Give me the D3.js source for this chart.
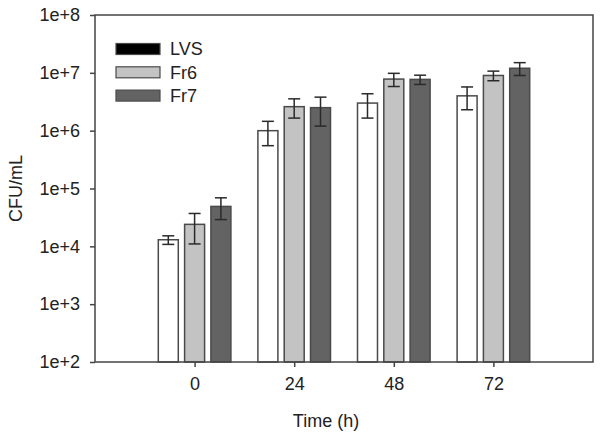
<!DOCTYPE html>
<html>
<head>
<meta charset="utf-8">
<script src="https://cdn.jsdelivr.net/npm/d3@7"></script>
<style>
  html, body { margin: 0; padding: 0; background: #fff; }
  text { font-family: "Liberation Sans", Arial, sans-serif; }
</style>
</head>
<body>
<svg id="chart" width="601" height="440"></svg>
<script>
// ---- data ----
const categories = ["0", "24", "48", "72"];
const seriesNames = ["LVS", "Fr6", "Fr7"];
const lvsValues = [1.3e4, 1.0e6, 3.0e6, 4.0e6];
const lvsErrors = [0.22e4, 0.45e6, 1.35e6, 1.7e6];
const fr6Values = [2.4e4, 2.6e6, 7.8e6, 9.0e6];
const fr6Errors = [1.3e4, 0.95e6, 2.0e6, 1.7e6];
const fr7Values = [4.9e4, 2.5e6, 7.7e6, 1.2e7];
const fr7Errors = [2.0e4, 1.3e6, 1.4e6, 3.0e6];
const yTickValues = [1e2, 1e3, 1e4, 1e5, 1e6, 1e7, 1e8];
const yTickLabels = ["1e+2", "1e+3", "1e+4", "1e+5", "1e+6", "1e+7", "1e+8"];

const barFills = { LVS: "#ffffff", Fr6: "#c3c3c3", Fr7: "#636363" };
const legendFills = { LVS: "#000000", Fr6: "#c3c3c3", Fr7: "#636363" };

const seriesData = [
  { name: "LVS", values: lvsValues, errors: lvsErrors },
  { name: "Fr6", values: fr6Values, errors: fr6Errors },
  { name: "Fr7", values: fr7Values, errors: fr7Errors }
];

const svg = d3.select("#chart");
const mLeft = 95, mRight = 593, mTop = 15, mBottom = 362;
const axisColor = "#444";

const x = d3.scalePoint().domain(categories).range([mLeft, mRight]).padding(1);
const xs = d3.scaleBand().domain(seriesNames).range([-36.3, 36.3]).paddingInner(0.24);
const y = d3.scaleLog().domain([1e2, 1e8]).range([mBottom, mTop]);

// bars
const rows = [];
seriesData.forEach(s => {
  categories.forEach((c, i) => rows.push({ s: s.name, c, v: s.values[i], e: s.errors[i] }));
});

const g = svg.append("g");
g.selectAll("rect.bar").data(rows).enter().append("rect")
  .attr("class", "bar")
  .attr("x", d => x(d.c) + xs(d.s))
  .attr("width", xs.bandwidth())
  .attr("y", d => y(d.v))
  .attr("height", d => y(1e2) - y(d.v))
  .attr("fill", d => barFills[d.s])
  .attr("stroke", "#4a4a4a")
  .attr("stroke-width", 1.5);

// error bars
const eb = g.selectAll("g.err").data(rows).enter().append("g").attr("class", "err")
  .attr("stroke", "#2a2a2a").attr("stroke-width", 1.5);
const cx = d => x(d.c) + xs(d.s) + xs.bandwidth() / 2;
eb.append("line")
  .attr("x1", cx).attr("x2", cx)
  .attr("y1", d => y(d.v + d.e)).attr("y2", d => y(d.v - d.e));
eb.append("line")
  .attr("x1", d => cx(d) - 6).attr("x2", d => cx(d) + 6)
  .attr("y1", d => y(d.v + d.e)).attr("y2", d => y(d.v + d.e));
eb.append("line")
  .attr("x1", d => cx(d) - 6).attr("x2", d => cx(d) + 6)
  .attr("y1", d => y(d.v - d.e)).attr("y2", d => y(d.v - d.e));

// frame
svg.append("rect")
  .attr("x", mLeft).attr("y", mTop)
  .attr("width", mRight - mLeft).attr("height", mBottom - mTop)
  .attr("fill", "none").attr("stroke", axisColor).attr("stroke-width", 1.5);

// y axis
const yAxis = d3.axisLeft(y).tickValues(yTickValues)
  .tickFormat((d, i) => yTickLabels[i]).tickSize(5).tickPadding(10);
const ya = svg.append("g").attr("transform", `translate(${mLeft},0)`).call(yAxis);
ya.select(".domain").remove();
ya.selectAll(".tick line").attr("stroke", axisColor).attr("stroke-width", 1.5);
ya.selectAll(".tick text").attr("font-size", 18).attr("fill", "#222")
  .attr("font-family", "Liberation Sans, Arial, sans-serif");

// x axis
const xAxis = d3.axisBottom(x).tickSize(5).tickPadding(10);
const xa = svg.append("g").attr("transform", `translate(0,${mBottom})`).call(xAxis);
xa.select(".domain").remove();
xa.selectAll(".tick line").attr("stroke", axisColor).attr("stroke-width", 1.5);
xa.selectAll(".tick text").attr("font-size", 18).attr("fill", "#222")
  .attr("font-family", "Liberation Sans, Arial, sans-serif");

// axis titles
svg.append("text").attr("x", (mLeft + mRight) / 2 - 18).attr("y", 427)
  .attr("text-anchor", "middle").attr("font-size", 18).attr("fill", "#222")
  .text("Time (h)");
svg.append("text")
  .attr("transform", `translate(22,${(mTop + mBottom) / 2}) rotate(-90)`)
  .attr("text-anchor", "middle").attr("font-size", 18).attr("fill", "#222")
  .text("CFU/mL");

// legend
const lg = svg.append("g");
seriesNames.forEach((n, i) => {
  const yy = 49 + i * 23.3;
  lg.append("rect").attr("x", 116).attr("y", yy - 5.5).attr("width", 44).attr("height", 11)
    .attr("fill", legendFills[n]).attr("stroke", "#4a4a4a").attr("stroke-width", 1.2);
  lg.append("text").attr("x", 170).attr("y", yy).attr("dy", "0.35em")
    .attr("font-size", 18).attr("fill", "#222").text(n);
});
</script>
</body>
</html>
